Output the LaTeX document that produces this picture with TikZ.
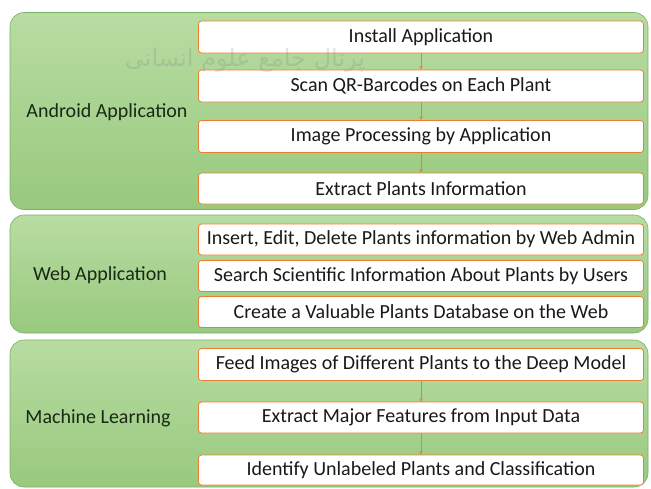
\documentclass[tikz,border=0pt]{standalone}
\usepackage{fontspec}
\setmainfont{Carlito}
\newfontfamily\persianfont[Script=Arabic]{DejaVu Sans}
\TeXXeTstate=1
\usetikzlibrary{arrows.meta}

\definecolor{panelgreen}{RGB}{152,201,126}
\definecolor{panellight}{RGB}{184,220,162}
\definecolor{paneledge}{RGB}{124,178,102}
\definecolor{boxorange}{RGB}{237,125,49}
\definecolor{labelink}{RGB}{26,40,22}

\begin{document}
\begin{tikzpicture}[x=1pt,y=-1pt,line cap=round,line join=round,
    panel/.style={rounded corners=14pt,draw=paneledge,line width=0.6pt,
      top color=panellight,bottom color=panelgreen,minimum width=638pt,inner sep=0pt},
    task/.style={draw=boxorange,line width=0.8pt,fill=white,rounded corners=3pt,
      minimum width=445pt,minimum height=31pt,inner sep=0pt,
      font=\fontsize{20}{22}\selectfont,text=black!90},
    group/.style={font=\fontsize{20}{22}\selectfont,text=labelink},
    flow/.style={draw=boxorange,line width=0.8pt,-{Stealth[length=3.5pt,width=3.5pt]}}]
  \useasboundingbox (0,0) rectangle (651,488);
  \fill[white] (0,0) rectangle (651,488);
  % panels
  \node[panel,minimum height=197pt] (android) at (329,111) {};
  \node[panel,minimum height=118pt] (web) at (329,274) {};
  \node[panel,minimum height=147pt] (ml) at (329,413.5) {};
  \node[group] (androidlbl) at (107,112) {Android Application};
  \node[group] (weblbl) at (100,275) {Web Application};
  \node[group] (mllbl) at (98,418) {Machine Learning};
  % android application
  \node[task,minimum height=32pt] (install) at (421,37) {Install Application};
  \node[task,minimum height=32pt] (scan) at (421,86) {Scan QR-Barcodes on Each Plant};
  \node[task,minimum height=32pt] (imgproc) at (421,136.5) {Image Processing by Application};
  \node[task,minimum height=31pt] (extract) at (421,188.5) {Extract Plants Information};
  \draw[flow] (install) -- (scan);
  \draw[flow] (scan) -- (imgproc);
  \draw[flow] (imgproc) -- (extract);
  % web application
  \node[task] (insert) at (421,239.5) {Insert, Edit, Delete Plants information by Web Admin};
  \node[task] (search) at (421,276) {Search Scientific Information About Plants by Users};
  \node[task] (create) at (421,312) {Create a Valuable Plants Database on the Web};
  % machine learning
  \node[task,minimum height=32pt] (feed) at (421,364.5) {Feed Images of Different Plants to the Deep Model};
  \node[task,minimum height=31pt] (features) at (421,417.5) {Extract Major Features from Input Data};
  \node[task,minimum height=30pt] (identify) at (421,470) {Identify Unlabeled Plants and Classification};
  \draw[flow] (feed) -- (features);
  \draw[flow] (features) -- (identify);
  % watermark
  \node[font=\persianfont\fontsize{24}{26}\selectfont,text=gray,opacity=0.22,inner sep=0pt] (mark)
    at (245,60) {\beginR پرتال جامع علوم انسانی\endR};
\end{tikzpicture}
\end{document}
